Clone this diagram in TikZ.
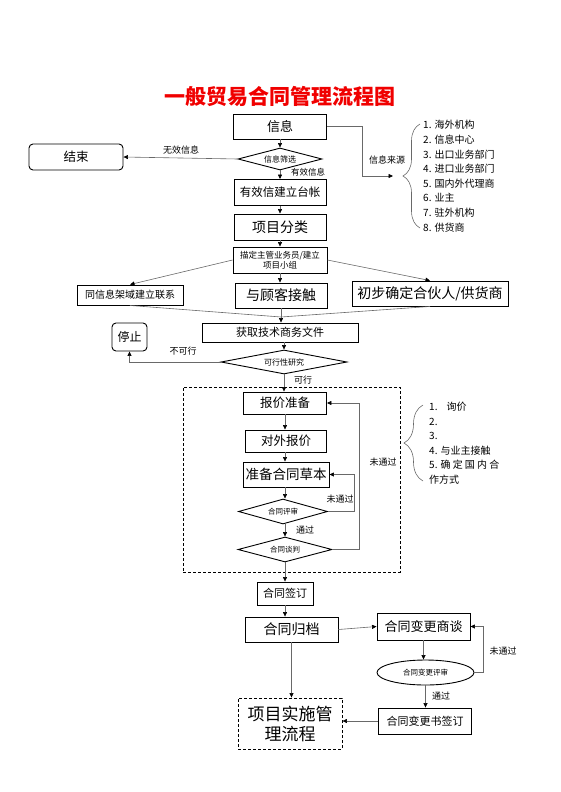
\documentclass[tikz,border=0pt]{standalone}
\usepackage{fontspec}
\setmainfont{Noto Sans CJK SC}
\usetikzlibrary{arrows.meta,shapes.geometric,decorations.pathreplacing,calc}
\definecolor{lg}{RGB}{105,105,105}
\definecolor{titlered}{RGB}{240,0,0}
\begin{document}
\begin{tikzpicture}[x=1pt,y=-1pt,
  fs/.style={font=\fontsize{#1}{#1}\selectfont},
  box/.style={draw=black,line width=0.9pt,inner sep=0pt,align=center},
  rbox/.style={box,rounded corners=4pt},
  dbox/.style={draw=black,line width=0.9pt,dash pattern=on 3pt off 2pt,inner sep=0pt,align=center},
  dia/.style={draw=black,line width=0.9pt,diamond,aspect=3.5,inner sep=0pt},
  ell/.style={draw=black,line width=0.9pt,ellipse,inner sep=0pt},
  lbl/.style={inner sep=0pt,fs=9},
  item/.style={inner sep=0pt,anchor=west,fs=10},
  conn/.style={draw=lg,line width=0.6pt},
  arr/.style={conn,-{Triangle[length=4.5pt,width=4pt,color=black]}}]
\useasboundingbox (0,0) rectangle (560,792);

% title
\node[inner sep=0pt,text=titlered,font=\fontsize{21}{21}\selectfont\bfseries] (title) at (280,96) {一般贸易合同管理流程图};

% upper column
\node[box,minimum width=93,minimum height=25,fs=13] (xinxi) at (280,126.5) {信息};
\node[dia,minimum width=84,minimum height=22,fs=8] (shaixuan) at (280,159) {信息筛选};
\node[rbox,minimum width=94,minimum height=26,fs=12.5] (jieshu) at (76,157) {结束};
\node[box,minimum width=92,minimum height=26,fs=11.5] (taizhang) at (280,192.5) {有效信建立台帐};
\node[box,minimum width=92,minimum height=26,fs=14] (fenlei) at (280,227) {项目分类};
\node[box,minimum width=94,minimum height=26,font=\fontsize{8.5}{10}\selectfont] (zhiding) at (280,260) {描定主管业务员/建立\\项目小组};
\node[box,minimum width=106,minimum height=20,fs=10] (lianxi) at (130,295) {同信息架域建立联系};
\node[box,minimum width=92,minimum height=25,fs=14] (jiechu) at (281,295.5) {与顾客接触};
\node[box,minimum width=156,minimum height=25,fs=14] (huoban) at (430,293.5) {初步确定合伙人/供货商};
\coordinate (conv) at (281,317);
\node[box,minimum width=156,minimum height=19,fs=11] (huoqu) at (280,332.5) {获取技术商务文件};
\node[rbox,minimum width=35,minimum height=28,fs=12] (tingzhi) at (129.5,337) {停止};
\node[dia,minimum width=126,minimum height=24,fs=8] (kexing) at (284,362) {可行性研究};

% dashed region
\node[dbox,minimum width=217,minimum height=185] (region) at (291.5,479.5) {};
\node[box,minimum width=83,minimum height=22,fs=12.5] (baojia) at (285,403) {报价准备};
\node[box,minimum width=81,minimum height=22,fs=12.5] (duiwai) at (286,441) {对外报价};
\node[box,minimum width=86,minimum height=25,fs=13.5] (caoben) at (286,474.5) {准备合同草本};
\node[dia,minimum width=89,minimum height=25,fs=7.5] (pingshen) at (283,511.5) {合同评审};
\node[dia,minimum width=94,minimum height=25,fs=7.5] (tanpan) at (285,549.5) {合同谈判};

% lower part
\node[box,minimum width=56,minimum height=23,fs=11] (qianding) at (285,593.5) {合同签订};
\node[box,minimum width=93,minimum height=25,fs=14] (guidang) at (291.5,629.5) {合同归档};
\node[box,minimum width=93,minimum height=27,fs=13] (biangeng) at (423.5,626.5) {合同变更商谈};
\node[ell,minimum width=97,minimum height=25,fs=7.5] (bgps) at (425.5,672.5) {合同变更评审};
\node[box,minimum width=93,minimum height=26,fs=11] (bgsq) at (425,721) {合同变更书签订};
\node[dbox,minimum width=104,minimum height=51,font=\fontsize{17}{20}\selectfont] (shishi) at (290,723.5) {项目实施管\\理流程};

% labels
\node[lbl] (lwuxiao) at (181,150) {无效信息};
\node[lbl,fs=8.5] (lyouxiao) at (308,172) {有效信息};
\node[lbl] (llaiyuan) at (387,160) {信息来源};
\node[lbl] (lbukexing) at (183,351) {不可行};
\node[lbl] (lkexing) at (303,380) {可行};
\node[lbl] (lwtg1) at (340,499) {未通过};
\node[lbl] (ltg1) at (305,530) {通过};
\node[lbl] (lwtg2) at (383,462) {未通过};
\node[lbl] (lwtg3) at (503,651) {未通过};
\node[lbl] (ltg2) at (441,696) {通过};

% list 1
\node[item] (a1) at (423,125) {1. 海外机构};
\node[item] (a2) at (423,139.6) {2. 信息中心};
\node[item] (a3) at (423,154.2) {3. 出口业务部门};
\node[item] (a4) at (423,168.8) {4. 进口业务部门};
\node[item] (a5) at (423,183.4) {5. 国内外代理商};
\node[item] (a6) at (423,198) {6. 业主};
\node[item] (a7) at (423,212.6) {7. 驻外机构};
\node[item] (a8) at (423,227.2) {8. 供货商};
\draw[conn,decorate,decoration={brace,amplitude=17pt}] (420,228) -- (420,124);
\coordinate (bend1) at (362,176);
\coordinate (tip1) at (393,176);

% list 2
\node[item] (b1) at (429,407) {1.\hspace{9pt}询价};
\node[item] (b2) at (429,422) {2.};
\node[item] (b3) at (429,436) {3.};
\node[item] (b4) at (429,450.5) {4. 与业主接触};
\node[item] (b5) at (429,465) {5. 确 定 国 内 合};
\node[item] (b6) at (429,480) {作方式};
\draw[conn,decorate,decoration={brace,amplitude=19pt}] (423,481) -- (423,405);

% connectors
\draw[arr] (xinxi.south) -- (shaixuan.north);
\draw[arr] (shaixuan.west) -- (jieshu.east);
\draw[arr] (shaixuan.south) -- (taizhang.north);
\draw[arr] (xinxi.east) -| (bend1) -- (tip1);
\draw[arr] (taizhang.south) -- (fenlei.north);
\draw[arr] (fenlei.south) -- (zhiding.north);
\draw[arr] (zhiding.west) -- (lianxi.north);
\draw[arr] (zhiding.east) -- (huoban.north);
\draw[arr] (zhiding.south) -- (zhiding.south |- jiechu.north);
\draw[conn] (lianxi.south) -- (conv);
\draw[conn] (huoban.south) -- (conv);
\draw[arr] (jiechu.south) -- (jiechu.south |- huoqu.north);
\draw[arr] (kexing.north |- huoqu.south) -- (kexing.north);
\draw[arr] (kexing.west) -| (tingzhi.south);
\draw[arr] (kexing.south) -- (kexing.south |- baojia.north);
\draw[arr] (baojia.south) -- (baojia.south |- duiwai.north);
\draw[arr] (baojia.south |- duiwai.south) -- (baojia.south |- caoben.north);
\draw[arr] (baojia.south |- caoben.south) -- (baojia.south |- pingshen.north);
\draw[arr] (baojia.south |- pingshen.south) -- (baojia.south |- tanpan.north);
\draw[arr] (pingshen.east) -- ++(26,0) |- (caoben.east);
\draw[arr] (tanpan.east) -- ++(27,0) |- (baojia.east);
\draw[arr] (tanpan.south) -- (tanpan.south |- qianding.north);
\draw[arr] (qianding.south) -- (qianding.south |- guidang.north);
\draw[arr] (guidang.east) -- (biangeng.west);
\draw[arr] (guidang.south) -- (guidang.south |- shishi.north);
\draw[arr] (biangeng.south) -- (biangeng.south |- bgps.north);
\draw[arr] (bgps.east) -- ++(9,0) |- (biangeng.east);
\draw[arr] (bgps.south) -- (bgps.south |- bgsq.north);
\draw[arr] (bgsq.west) -- (bgsq.west -| shishi.east);
\end{tikzpicture}
\end{document}
